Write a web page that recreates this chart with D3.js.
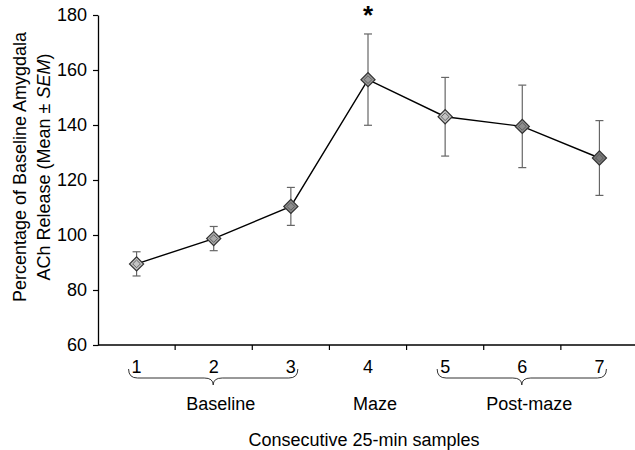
<!DOCTYPE html>
<html>
<head>
<meta charset="utf-8">
<script src="https://cdn.jsdelivr.net/npm/d3@7"></script>
<style>
  body { margin: 0; background: #fff; }
  svg { display: block; font-family: Arial, "Liberation Sans", sans-serif; }
</style>
</head>
<body>
<script>
// Chart size
var width = 635,
    height = 450;

// Data
var samples = [1, 2, 3, 4, 5, 6, 7];
var means = [89.5, 98.7, 110.4, 156.5, 143, 139.5, 128];
var sems = [4.4, 4.4, 6.9, 16.6, 14.3, 15, 13.6];
var markerFills = ["#c4c4c4", "#a9a9a9", "#8c8c8c", "#9a9a9a", "#c2c2c2", "#8e8e8e", "#7a7a7a"];
var yTicks = [60, 80, 100, 120, 140, 160, 180];
var groups = [
  { label: "Baseline", from: 1, to: 3 },
  { label: "Maze", from: 4, to: 4 },
  { label: "Post-maze", from: 5, to: 7 }
];
var significant = [4];

var svg = d3.select("body")
    .append("svg")
    .attr("width", width)
    .attr("height", height);

// Scales
var x = d3.scaleBand()
    .domain(samples)
    .range([98, 638]);

var y = d3.scaleLinear()
    .domain([60, 180])
    .range([345, 15]);

var cx = function(d) { return x(d) + x.bandwidth() / 2; };

// Y axis
var yAxis = svg.append("g")
    .attr("transform", "translate(98,0)")
    .call(d3.axisLeft(y).tickValues(yTicks).tickSize(5).tickPadding(6).tickSizeOuter(0));
yAxis.select(".domain").attr("stroke", "#000").attr("stroke-width", 1.3);
yAxis.selectAll(".tick line").attr("stroke", "#000").attr("stroke-width", 1.2);
yAxis.selectAll(".tick text")
    .attr("font-size", "18px")
    .attr("fill", "#000")
    .attr("font-family", "Arial, 'Liberation Sans', sans-serif");

// X axis line and ticks between categories
svg.append("line")
    .attr("x1", 98).attr("x2", width)
    .attr("y1", y(60)).attr("y2", y(60))
    .attr("stroke", "#000")
    .attr("stroke-width", 1.3);

svg.selectAll(".xtick")
    .data(samples.slice(1))
    .enter().append("line")
    .attr("class", "xtick")
    .attr("x1", function(d) { return x(d); })
    .attr("x2", function(d) { return x(d); })
    .attr("y1", y(60))
    .attr("y2", y(60) + 5)
    .attr("stroke", "#000")
    .attr("stroke-width", 1.2);

svg.selectAll(".xlabel")
    .data(samples)
    .enter().append("text")
    .attr("class", "xlabel")
    .attr("x", cx)
    .attr("y", 373)
    .attr("text-anchor", "middle")
    .attr("font-size", "18px")
    .text(function(d) { return d; });

// Curly braces under grouped samples
function brace(x0, x1, yTop) {
  var m = (x0 + x1) / 2, yl = yTop + 9, yt = yTop + 16;
  return "M" + x0 + "," + yTop +
    " Q" + x0 + "," + yl + " " + (x0 + 9) + "," + yl +
    " L" + (m - 9) + "," + yl +
    " Q" + m + "," + yl + " " + m + "," + yt +
    " Q" + m + "," + yl + " " + (m + 9) + "," + yl +
    " L" + (x1 - 9) + "," + yl +
    " Q" + x1 + "," + yl + " " + x1 + "," + yTop;
}

groups.forEach(function(g) {
  var x0 = cx(g.from) - 8, x1 = cx(g.to) + 7;
  if (g.to > g.from) {
    svg.append("path")
      .attr("d", brace(x0, x1, 369))
      .attr("fill", "none")
      .attr("stroke", "#333")
      .attr("stroke-width", 1);
  }
  svg.append("text")
    .attr("x", (cx(g.from) + cx(g.to)) / 2 + 7)
    .attr("y", 410)
    .attr("text-anchor", "middle")
    .attr("font-size", "18px")
    .text(g.label);
});

// Axis titles
svg.append("text")
    .attr("x", 364)
    .attr("y", 446)
    .attr("text-anchor", "middle")
    .attr("font-size", "18px")
    .text("Consecutive 25-min samples");

var yTitle = svg.append("text")
    .attr("transform", "translate(0,167) rotate(-90)")
    .attr("text-anchor", "middle")
    .attr("font-size", "18px");
yTitle.append("tspan").attr("x", 0).attr("y", 26).text("Percentage of Baseline Amygdala");
var line2 = yTitle.append("tspan").attr("x", 0).attr("y", 50);
line2.append("tspan").text("ACh Release (Mean ");
line2.append("tspan").text("\u00B1");
line2.append("tspan").text(" ");
line2.append("tspan").attr("font-style", "italic").text("SEM");
line2.append("tspan").text(")");

// Error bars
var bars = svg.append("g")
    .attr("stroke", "#666")
    .attr("stroke-width", 1.2);

samples.forEach(function(s, i) {
  var top = y(means[i] + sems[i]), bot = y(means[i] - sems[i]), c = cx(s);
  bars.append("line").attr("x1", c).attr("x2", c).attr("y1", top).attr("y2", bot);
  bars.append("line").attr("x1", c - 4).attr("x2", c + 4).attr("y1", top).attr("y2", top);
  bars.append("line").attr("x1", c - 4).attr("x2", c + 4).attr("y1", bot).attr("y2", bot);
});

// Mean line
var line = d3.line()
    .x(function(d) { return cx(d); })
    .y(function(d, i) { return y(means[i]); });

svg.append("path")
    .datum(samples)
    .attr("d", line)
    .attr("fill", "none")
    .attr("stroke", "#000")
    .attr("stroke-width", 1.4);

// Diamond markers
var square = d3.symbol().type(d3.symbolSquare).size(100);
var inner = d3.symbol().type(d3.symbolSquare).size(30);

var marks = svg.selectAll(".mark")
    .data(samples)
    .enter().append("g")
    .attr("class", "mark")
    .attr("transform", function(d, i) {
      return "translate(" + cx(d) + "," + y(means[i]) + ") rotate(45)";
    });

marks.append("path")
    .attr("d", square)
    .attr("fill", function(d, i) { return markerFills[i]; })
    .attr("stroke", "#333")
    .attr("stroke-width", 1.2);

marks.append("path")
    .attr("d", inner)
    .attr("fill", "none")
    .attr("stroke", "#555")
    .attr("stroke-width", 0.8);

// Significance marker
svg.selectAll(".sig")
    .data(significant)
    .enter().append("text")
    .attr("class", "sig")
    .attr("x", function(d) { return cx(d); })
    .attr("y", 24)
    .attr("text-anchor", "middle")
    .attr("font-size", "26px")
    .attr("font-weight", "bold")
    .text("*");
</script>
</body>
</html>
